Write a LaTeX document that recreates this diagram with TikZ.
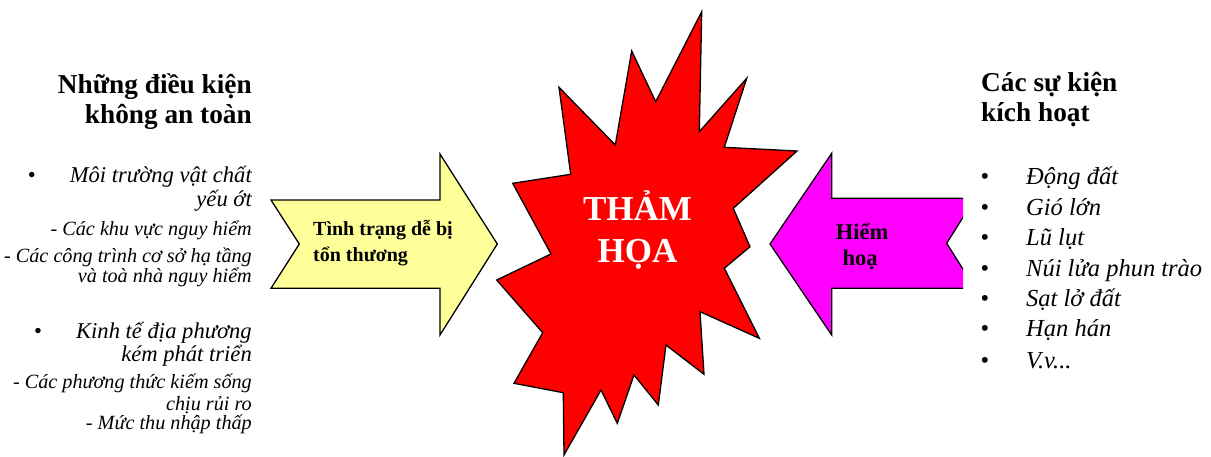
\documentclass[tikz,border=0pt]{standalone}
\usepackage{fontspec}
\setmainfont{Liberation Serif}
\begin{document}
\begin{tikzpicture}[x=1pt,y=-1pt,
  outline/.style={draw=black,line width=1.3pt,line join=miter},
  headtxt/.style={font=\fontsize{27.3}{30}\selectfont\bfseries,inner sep=0pt},
  itemtxt/.style={font=\fontsize{22.6}{24}\selectfont\itshape,inner sep=0pt},
  subtxt/.style={font=\fontsize{20.2}{22}\selectfont\itshape,inner sep=0pt},
  evttxt/.style={font=\fontsize{24.5}{26}\selectfont\itshape,inner sep=0pt},
  arrowtxt/.style={font=\fontsize{20}{22}\selectfont\bfseries,inner sep=0pt},
  bigtxt/.style={font=\fontsize{35}{40}\selectfont\bfseries,text=white,inner sep=0pt}]
  \useasboundingbox (0,0) rectangle (1211,456);

  % yellow arrow
  \draw[outline,fill={rgb,255:red,255;green,255;blue,153}]
    (271,200) -- (440,200) -- (440,154) -- (497.3,244) -- (440,335)
    -- (440,288.3) -- (271,288.3) -- (299.3,244) -- cycle;

  % magenta arrow, tail hidden by the list
  \begin{scope}
    \clip (0,0) rectangle (963,456);
    \draw[outline,fill={rgb,255:red,255;green,0;blue,255}]
      (770,244) -- (831.7,153.3) -- (831.7,198.3) -- (975,198.3) -- (946.7,243.3)
      -- (975,288.3) -- (831.7,288.3) -- (831.7,335) -- cycle;
  \end{scope}

  % blast
  \draw[outline,fill=red]
    (701.7,11.7) -- (699.3,131.7) -- (746.7,78.3) -- (724.3,147.3) -- (797,151)
    -- (733.3,208.3) -- (750,246.7) -- (724.3,268.3) -- (759.3,338.3) -- (700,311.7)
    -- (704,374.3) -- (666,345) -- (658.3,405) -- (634,375) -- (617.3,423.3)
    -- (601,390) -- (564,455) -- (563.3,392.7) -- (514,383.3) -- (542.7,332.7)
    -- (496.7,280) -- (551,254) -- (512.7,183.3) -- (570.7,174.3) -- (559,87.3)
    -- (615.3,145) -- (631.7,51) -- (655.7,101.7) -- cycle;

  \node[bigtxt,anchor=base] (th1) at (637.5,220) {THẢM};
  \node[bigtxt,anchor=base] (th2) at (637.5,262) {HỌA};

  \node[arrowtxt,anchor=base west] (vu1) at (313,235) {Tình trạng dễ bị};
  \node[arrowtxt,anchor=base west] (vu2) at (313,261.7) {tổn thương};
  \node[arrowtxt,font=\fontsize{22.5}{24}\selectfont\bfseries,anchor=base] (hz1) at (862,239.3) {Hiểm};
  \node[arrowtxt,font=\fontsize{22.5}{24}\selectfont\bfseries,anchor=base] (hz2) at (860,265) {hoạ};

  % left column
  \node[headtxt,anchor=base east] (lh1) at (252,93) {Những điều kiện};
  \node[headtxt,anchor=base east] (lh2) at (252,123) {không an toàn};

  \node[itemtxt,anchor=base east] (l1) at (252,182.7) {\textup{\textbullet}\hspace{34pt}Môi trường vật chất};
  \node[itemtxt,anchor=base east] (l2) at (252,206.7) {yếu ớt};
  \node[subtxt,anchor=base east] (l3) at (252,235) {- Các khu vực nguy hiểm};
  \node[subtxt,anchor=base east] (l4) at (252,262) {- Các công trình cơ sở hạ tầng};
  \node[subtxt,anchor=base east] (l5) at (252,282.7) {và toà nhà nguy hiểm};
  \node[itemtxt,anchor=base east] (l6) at (252,338.3) {\textup{\textbullet}\hspace{34pt}Kinh tế địa phương};
  \node[itemtxt,anchor=base east] (l7) at (252,361.7) {kém phát triển};
  \node[subtxt,anchor=base east] (l8) at (252,388.3) {- Các phương thức kiếm sống};
  \node[subtxt,anchor=base east] (l9) at (252,410) {chịu rủi ro};
  \node[subtxt,anchor=base east] (l10) at (252,429.3) {- Mức thu nhập thấp};

  % right column
  \node[headtxt,anchor=base west] (rh1) at (981,91.7) {Các sự kiện};
  \node[headtxt,anchor=base west] (rh2) at (981,121.7) {kích hoạt};

  \foreach \y/\t [count=\i] in {184/{Động đất}, 215/{Gió lớn}, 245/{Lũ lụt},
      276.7/{Núi lửa phun trào}, 306.7/{Sạt lở đất}, 336.7/{Hạn hán}, 368/{V.v...}}{
    \node[evttxt,anchor=base] (b\i) at (985,\y) {\textup{\textbullet}};
    \node[evttxt,anchor=base west] (e\i) at (1026,\y) {\t};
  }
\end{tikzpicture}
\end{document}
